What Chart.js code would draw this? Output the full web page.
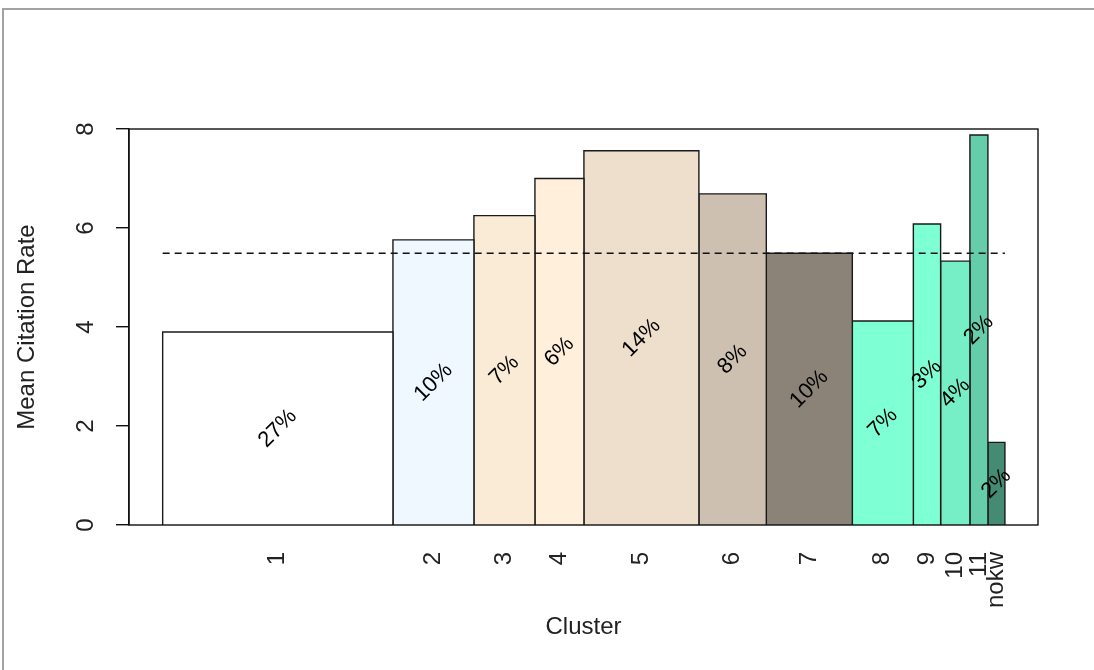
<!DOCTYPE html>
<html>
<head>
<meta charset="utf-8">
<script src="https://cdn.jsdelivr.net/npm/chart.js@4/dist/chart.umd.min.js"></script>
<style>
    html, body { margin: 0; padding: 0; background: #fff; }
    #wrap { position: relative; width: 1094px; height: 670px; overflow: hidden; }
    #frame { position: absolute; left: 2px; top: 8px; width: 1200px; height: 800px;
             border-top: 2px solid #a2a2a2; border-left: 2px solid #a2a2a2; pointer-events: none; }
</style>
</head>
<body>
<div id="wrap">
    <canvas id="citations" width="1094" height="670"></canvas>
    <div id="frame"></div>
</div>
<script>
// cluster names, share of papers (bar width, %), mean citation rate (bar height)
const clusters = ['1', '2', '3', '4', '5', '6', '7', '8', '9', '10', '11', 'nokw']
const shares = [27.36, 9.62, 7.25, 5.82, 13.66, 8.01, 10.22, 7.25, 3.24, 3.48, 2.14, 2.02]
const rates = [3.90, 5.76, 6.25, 7.00, 7.56, 6.69, 5.49, 4.12, 6.08, 5.33, 7.88, 1.67]
const shareLabels = ['27%', '10%', '7%', '6%', '14%', '8%', '10%', '7%', '3%', '4%', '2%', '2%']
const colors = ['#FFFFFF', '#F0F8FF', '#FAEBD7', '#FFEFDB', '#EEDFCC', '#CDC0B0',
                '#8B8378', '#7FFFD4', '#7FFFD4', '#76EEC6', '#66CDAA', '#458B74']
const meanRate = 5.49
const yTicks = [0, 2, 4, 6, 8]

const FONT = "'Liberation Sans', Arial, sans-serif"

// left / right edges of each bar along the share axis
let edges = [0]
shares.forEach((s, i) => edges.push(edges[i] + s))
const centers = shares.map((s, i) => edges[i] + s / 2)

let datasets = shares.map((s, i) => ({
    data: [
        { x: edges[i], y: 0 }, { x: edges[i], y: rates[i] },
        { x: edges[i + 1], y: rates[i] }, { x: edges[i + 1], y: 0 }
    ],
    backgroundColor: colors[i],
    borderColor: '#1a1a1a',
    borderWidth: 1.4,
    fill: 'origin',
    pointRadius: 0,
    tension: 0,
    order: 1
}))

datasets.push({
    data: [{ x: 0, y: meanRate }, { x: edges[edges.length - 1], y: meanRate }],
    borderColor: '#111',
    borderWidth: 1.4,
    borderDash: [7, 5],
    fill: false,
    pointRadius: 0,
    order: 0
})

// box, rotated y tick labels and share labels inside the bars
const decorations = {
    id: 'decorations',
    afterDatasetsDraw(chart) {
        let { ctx, chartArea, scales } = chart
        let xs = scales.x, ys = scales.y
        ctx.save()
        ctx.strokeStyle = '#111'
        ctx.lineWidth = 1.4
        ctx.strokeRect(chartArea.left, chartArea.top,
            chartArea.right - chartArea.left, chartArea.bottom - chartArea.top)

        ctx.fillStyle = '#000'
        ctx.textAlign = 'center'
        ctx.textBaseline = 'middle'
        ctx.font = '22px ' + FONT
        shareLabels.forEach((lab, i) => {
            ctx.save()
            ctx.translate(xs.getPixelForValue(centers[i]), ys.getPixelForValue(rates[i] / 2))
            ctx.rotate(-Math.PI / 4)
            ctx.fillText(lab, 0, 0)
            ctx.restore()
        })

        ctx.fillStyle = '#222'
        ctx.font = '24px ' + FONT
        yTicks.forEach((v) => {
            ctx.save()
            ctx.translate(chartArea.left - 43, ys.getPixelForValue(v))
            ctx.rotate(-Math.PI / 2)
            ctx.fillText(String(v), 0, 0)
            ctx.restore()
        })
        ctx.restore()
    }
}

let ctx = document.getElementById('citations').getContext('2d')
let chart = new Chart(ctx, {
    type: 'line',
    data: { datasets: datasets },
    plugins: [decorations],
    options: {
        responsive: false,
        animation: false,
        devicePixelRatio: 1,
        layout: { padding: { left: 9, top: 129, right: 56, bottom: 24 } },
        plugins: { legend: { display: false }, tooltip: { enabled: false } },
        scales: {
            x: {
                type: 'linear',
                min: -4,
                max: 104,
                grid: { display: false, drawTicks: false },
                border: { display: false },
                afterBuildTicks: (scale) => {
                    scale.ticks = centers.map((c) => ({ value: c }))
                },
                afterFit: (scale) => { scale.height = 121 },
                ticks: {
                    autoSkip: false,
                    minRotation: 90,
                    maxRotation: 90,
                    padding: 27,
                    color: '#222',
                    font: { family: FONT, size: 24 },
                    callback: (value, index) => clusters[index]
                },
                title: {
                    display: true,
                    text: 'Cluster',
                    color: '#222',
                    font: { family: FONT, size: 24 }
                }
            },
            y: {
                min: 0,
                max: 8,
                grid: {
                    display: true,
                    drawOnChartArea: false,
                    drawTicks: true,
                    tickLength: 13,
                    lineWidth: 1.4,
                    color: '#111'
                },
                border: { display: true, color: '#111', width: 1.4 },
                afterBuildTicks: (scale) => {
                    scale.ticks = yTicks.map((v) => ({ value: v }))
                },
                afterFit: (scale) => { scale.width = 120 },
                ticks: { display: false },
                title: {
                    display: true,
                    text: 'Mean Citation Rate',
                    color: '#222',
                    font: { family: FONT, size: 24 }
                }
            }
        }
    }
})
</script>
</body>
</html>
